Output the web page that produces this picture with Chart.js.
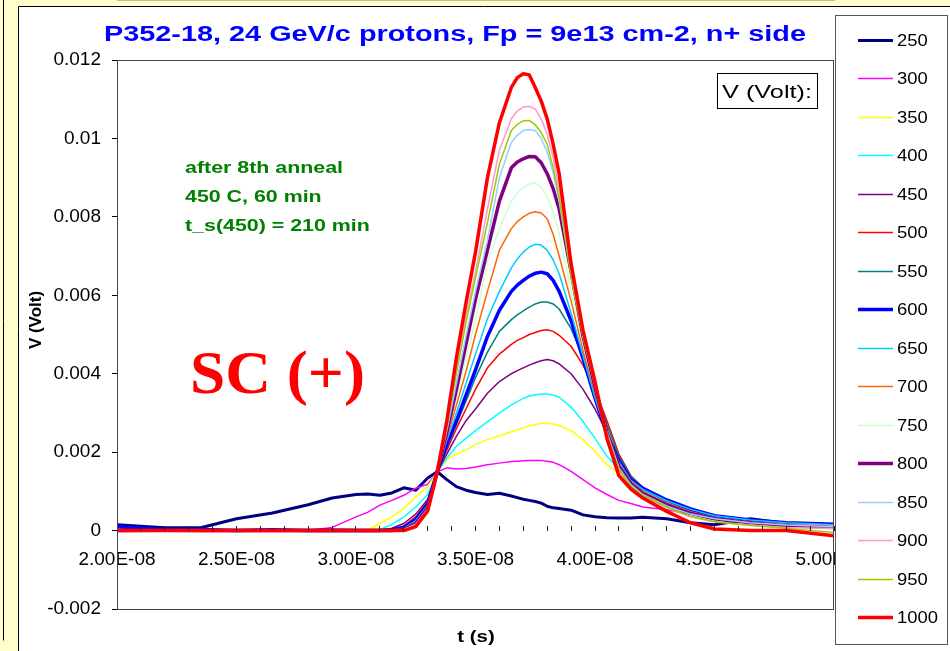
<!DOCTYPE html>
<html>
<head>
<meta charset="utf-8">
<title>P352-18 pulses</title>
<script src="https://cdn.jsdelivr.net/npm/chart.js@4.4.0/dist/chart.umd.min.js"></script>
<style>
  html, body { margin: 0; padding: 0; background: #ffffcc; }
  #wrap { width: 950px; height: 651px; }
</style>
</head>
<body>
<div id="wrap"><canvas id="pulseChart" width="950" height="651"></canvas></div>
<script>
// time samples (ns), shared by all curves
const timeNs = [20, 22, 23.5, 25, 26.5, 28, 29, 30, 30.5, 31, 31.5, 32, 32.5, 33, 33.4, 33.8, 34.2, 34.6, 35, 35.5,
  36, 36.5, 36.75, 37, 37.25, 37.5, 37.75, 38, 38.25, 38.5, 39, 39.5, 40, 40.5, 41, 41.5, 42, 43, 44, 45, 46.5, 48, 50];

// signal (mV) for each bias voltage
const v250 = [0.15, 0.07, 0.07, 0.30, 0.45, 0.66, 0.83, 0.92, 0.93, 0.90, 0.96, 1.09, 1.03, 1.34, 1.50, 1.30, 1.12, 1.03, 0.97, 0.92,
  0.95, 0.88, 0.84, 0.80, 0.77, 0.74, 0.70, 0.62, 0.58, 0.56, 0.52, 0.40, 0.35, 0.33, 0.32, 0.32, 0.34, 0.30, 0.20, 0.15, 0.30, 0.18, 0.11];
const v300 = [0.02, 0.00, 0.00, 0.01, 0.00, 0.00, 0.08, 0.35, 0.47, 0.65, 0.77, 0.90, 1.08, 1.18, 1.50, 1.60, 1.57, 1.58, 1.62, 1.68,
  1.72, 1.76, 1.77, 1.78, 1.79, 1.79, 1.79, 1.77, 1.74, 1.68, 1.51, 1.30, 1.09, 0.92, 0.77, 0.69, 0.60, 0.53, 0.42, 0.33, 0.22, 0.15, 0.10];
const v350 = [0.00, 0.01, 0.00, 0.00, 0.01, 0.00, 0.00, 0.00, 0.01, 0.18, 0.35, 0.56, 0.86, 1.12, 1.50, 1.80, 1.95, 2.05, 2.20, 2.32,
  2.42, 2.52, 2.57, 2.62, 2.67, 2.70, 2.73, 2.73, 2.72, 2.68, 2.55, 2.32, 2.02, 1.68, 1.43, 1.20, 1.00, 0.72, 0.50, 0.35, 0.25, 0.18, 0.12];
const v400 = [0.01, 0.00, 0.01, 0.00, 0.00, 0.01, 0.00, 0.00, 0.00, 0.03, 0.15, 0.35, 0.60, 0.92, 1.50, 1.85, 2.15, 2.35, 2.55, 2.77,
  3.00, 3.20, 3.29, 3.37, 3.43, 3.46, 3.48, 3.48, 3.46, 3.40, 3.15, 2.78, 2.35, 1.90, 1.55, 1.28, 1.05, 0.75, 0.52, 0.37, 0.26, 0.18, 0.14];
const v450 = [0.00, 0.01, 0.00, 0.00, 0.01, 0.00, 0.00, 0.00, 0.00, 0.00, 0.06, 0.18, 0.42, 0.80, 1.50, 1.95, 2.40, 2.80, 3.10, 3.50,
  3.80, 4.00, 4.08, 4.15, 4.22, 4.28, 4.33, 4.36, 4.33, 4.25, 4.00, 3.60, 3.10, 2.50, 1.85, 1.35, 1.08, 0.75, 0.52, 0.37, 0.26, 0.18, 0.13];
const v500 = [0.02, 0.00, 0.01, 0.00, 0.00, 0.01, 0.00, 0.00, 0.00, 0.00, 0.03, 0.12, 0.35, 0.75, 1.50, 2.05, 2.60, 3.10, 3.60, 4.15,
  4.50, 4.75, 4.85, 4.92, 5.00, 5.05, 5.10, 5.12, 5.08, 4.98, 4.70, 4.22, 3.60, 2.80, 1.95, 1.40, 1.10, 0.76, 0.53, 0.37, 0.25, 0.18, 0.13];
const v550 = [0.00, 0.01, 0.00, 0.01, 0.00, 0.00, 0.01, 0.00, 0.00, 0.00, 0.02, 0.10, 0.30, 0.70, 1.50, 2.15, 2.70, 3.30, 3.90, 4.55,
  5.08, 5.38, 5.50, 5.60, 5.70, 5.78, 5.83, 5.83, 5.78, 5.65, 5.15, 4.42, 3.60, 2.70, 1.90, 1.38, 1.10, 0.78, 0.55, 0.38, 0.26, 0.20, 0.15];
const v600 = [0.10, 0.02, 0.03, 0.00, 0.02, 0.00, 0.01, 0.00, 0.00, 0.00, 0.02, 0.08, 0.28, 0.68, 1.50, 2.20, 2.80, 3.45, 4.10, 4.95,
  5.62, 6.10, 6.26, 6.38, 6.49, 6.56, 6.59, 6.55, 6.38, 6.10, 5.35, 4.38, 3.38, 2.45, 1.78, 1.30, 1.08, 0.78, 0.55, 0.38, 0.27, 0.20, 0.16];
const v650 = [0.00, 0.01, 0.00, 0.00, 0.00, 0.01, 0.00, 0.00, 0.00, 0.00, 0.01, 0.06, 0.25, 0.65, 1.50, 2.30, 3.00, 3.75, 4.50, 5.40,
  6.10, 6.70, 6.93, 7.10, 7.23, 7.30, 7.28, 7.15, 6.90, 6.55, 5.55, 4.45, 3.40, 2.45, 1.75, 1.28, 1.05, 0.76, 0.54, 0.38, 0.27, 0.20, 0.15];
const v700 = [0.00, 0.00, 0.01, 0.00, 0.01, 0.00, 0.00, 0.00, 0.00, 0.00, 0.01, 0.05, 0.22, 0.62, 1.50, 2.35, 3.20, 4.05, 5.00, 6.10,
  7.15, 7.70, 7.88, 8.00, 8.09, 8.13, 8.10, 7.95, 7.55, 7.00, 5.85, 4.60, 3.50, 2.50, 1.72, 1.25, 1.00, 0.70, 0.48, 0.33, 0.22, 0.16, 0.12];
const v750 = [0.00, 0.00, 0.00, 0.01, 0.00, 0.00, 0.00, 0.01, 0.00, 0.00, 0.00, 0.04, 0.20, 0.60, 1.50, 2.40, 3.40, 4.40, 5.40, 6.85,
  7.70, 8.40, 8.60, 8.75, 8.84, 8.87, 8.75, 8.50, 8.12, 7.60, 6.10, 4.75, 3.55, 2.50, 1.70, 1.22, 0.97, 0.68, 0.46, 0.32, 0.22, 0.15, 0.12];
const v800 = [0.00, 0.01, 0.00, 0.00, 0.00, 0.00, 0.01, 0.00, 0.00, 0.00, 0.00, 0.03, 0.18, 0.58, 1.50, 2.50, 3.60, 4.75, 5.90, 7.15,
  8.40, 9.25, 9.40, 9.48, 9.54, 9.53, 9.38, 9.10, 8.72, 8.20, 6.60, 4.95, 3.65, 2.50, 1.65, 1.20, 0.95, 0.66, 0.44, 0.30, 0.20, 0.12, 0.08];
const v850 = [0.01, 0.00, 0.00, 0.00, 0.01, 0.00, 0.00, 0.00, 0.00, 0.00, 0.00, 0.03, 0.16, 0.56, 1.50, 2.55, 3.75, 4.95, 6.10, 7.40,
  9.00, 9.90, 10.08, 10.20, 10.23, 10.20, 10.00, 9.65, 9.12, 8.40, 6.50, 4.95, 3.70, 2.50, 1.60, 1.17, 0.92, 0.63, 0.42, 0.30, 0.20, 0.14, 0.10];
const v900 = [0.00, 0.00, 0.00, 0.00, 0.00, 0.01, 0.00, 0.00, 0.00, 0.00, 0.00, 0.02, 0.14, 0.54, 1.50, 2.70, 4.15, 5.45, 6.60, 8.20,
  9.70, 10.50, 10.70, 10.80, 10.82, 10.75, 10.50, 10.10, 9.50, 8.70, 6.60, 5.00, 3.72, 2.45, 1.55, 1.12, 0.88, 0.58, 0.35, 0.22, 0.14, 0.08, 0.05];
const v950 = [0.00, 0.00, 0.00, 0.00, 0.00, 0.00, 0.00, 0.00, 0.00, 0.00, 0.00, 0.02, 0.12, 0.52, 1.50, 2.65, 4.00, 5.30, 6.45, 7.85,
  9.35, 10.20, 10.36, 10.45, 10.46, 10.35, 10.15, 9.85, 9.25, 8.50, 6.50, 4.95, 3.72, 2.45, 1.55, 1.13, 0.90, 0.60, 0.36, 0.23, 0.13, 0.06, -0.05];
const v1000 = [0.00, 0.00, 0.00, 0.00, 0.00, 0.00, 0.00, 0.00, 0.00, 0.00, 0.00, 0.00, 0.10, 0.50, 1.50, 2.80, 4.40, 5.80, 7.10, 9.00,
  10.40, 11.30, 11.55, 11.65, 11.62, 11.30, 10.95, 10.50, 9.85, 9.10, 6.80, 5.10, 3.80, 2.35, 1.40, 1.06, 0.83, 0.49, 0.20, 0.04, 0.00, 0.00, -0.13];

const voltLabels = ["250", "300", "350", "400", "450", "500", "550", "600", "650", "700", "750", "800", "850", "900", "950", "1000"];
const seriesMv = [v250, v300, v350, v400, v450, v500, v550, v600, v650, v700, v750, v800, v850, v900, v950, v1000];
const lineColors = ["#000080", "#ff00ff", "#ffff00", "#00ffff", "#800080", "#ff0000", "#008080", "#0000ff",
  "#00ccff", "#ff6600", "#ccffcc", "#800080", "#99ccff", "#ff99cc", "#99cc00", "#ff0000"];
const lineWidths = [3, 1.5, 1.5, 1.5, 1.5, 1.5, 1.5, 3.5, 1.5, 1.5, 1.5, 3.5, 1.5, 1.5, 1.5, 3.5];

const yTicks = { min: -0.002, max: 0.012, step: 0.002 };
const xTicks = { min: 2e-8, max: 5e-8, step: 1e-9 };

const FONT = '"Liberation Sans", Arial, sans-serif';

// draw text squeezed/stretched horizontally
function drawText(ctx, text, x, y, sx, align) {
  ctx.save();
  ctx.translate(x, y);
  ctx.scale(sx, 1);
  ctx.textAlign = align || "left";
  ctx.fillText(text, 0, 0);
  ctx.restore();
}

function fitScale(ctx, text, width) {
  return width / ctx.measureText(text).width;
}

function sciLabel(value) {
  const parts = value.toExponential(2).split("e");
  const exp = parseInt(parts[1], 10);
  return parts[0] + "E" + (exp < 0 ? "-" : "+") + String(Math.abs(exp)).padStart(2, "0");
}

const decorations = {
  id: "decorations",
  beforeDraw(chart) {
    const ctx = chart.ctx;
    ctx.save();
    ctx.fillStyle = "#ffffcc";
    ctx.fillRect(0, 0, chart.width, chart.height);
    ctx.fillStyle = "#ffffff";
    ctx.fillRect(18, 6, chart.width - 18, chart.height - 6);
    ctx.strokeStyle = "#000";
    ctx.lineWidth = 1;
    ctx.beginPath();
    ctx.moveTo(18.5, chart.height);
    ctx.lineTo(18.5, 6.5);
    ctx.lineTo(chart.width, 6.5);
    ctx.moveTo(3.5, 0);
    ctx.lineTo(3.5, 640.5);
    ctx.stroke();
    ctx.restore();
  },
  afterDraw(chart) {
    const ctx = chart.ctx;
    const area = chart.chartArea;
    ctx.save();

    // plot frame
    ctx.strokeStyle = "#444";
    ctx.lineWidth = 1;
    ctx.strokeRect(Math.round(area.left) + 0.5, Math.round(area.top) + 0.5,
      Math.round(area.right - area.left) - 1, Math.round(area.bottom - area.top));

    // title
    ctx.fillStyle = "#0000ff";
    ctx.font = "bold 22px " + FONT;
    const title = "P352-18, 24 GeV/c protons, Fp = 9e13 cm-2, n+ side";
    drawText(ctx, title, 455, 41, fitScale(ctx, title, 702), "center");

    // axis titles
    ctx.fillStyle = "#000";
    ctx.font = "bold 17px " + FONT;
    drawText(ctx, "t (s)", 476, 642, 1.2, "center");
    ctx.save();
    ctx.translate(41, 320);
    ctx.rotate(-Math.PI / 2);
    ctx.textAlign = "center";
    ctx.fillText("V (Volt)", 0, 0);
    ctx.restore();

    // annealing note
    ctx.fillStyle = "#008000";
    ctx.font = "bold 17px " + FONT;
    const noteScale = fitScale(ctx, "after 8th anneal", 158);
    drawText(ctx, "after 8th anneal", 185, 173, noteScale);
    drawText(ctx, "450 C, 60 min", 185, 202, noteScale);
    drawText(ctx, "t_s(450) = 210 min", 185, 231, noteScale);

    // SC (+)
    ctx.fillStyle = "#ff0000";
    ctx.font = 'bold 62px "Liberation Serif", "Times New Roman", serif';
    drawText(ctx, "SC (+)", 190, 393, fitScale(ctx, "SC (+)", 175));

    // V (Volt): label box
    ctx.fillStyle = "#fff";
    ctx.fillRect(717, 73, 100, 35);
    ctx.strokeStyle = "#000";
    ctx.strokeRect(717.5, 73.5, 100, 35);
    ctx.fillStyle = "#000";
    ctx.font = "19px " + FONT;
    drawText(ctx, "V (Volt):", 722, 98, fitScale(ctx, "V (Volt):", 90));

    // legend
    ctx.fillStyle = "#fff";
    ctx.fillRect(835, 15, 113, 630);
    ctx.strokeStyle = "#555";
    ctx.strokeRect(835.5, 15.5, 112, 629);
    ctx.font = "16px " + FONT;
    ctx.textBaseline = "middle";
    chart.data.datasets.forEach((ds, i) => {
      const y = Math.round(40 + i * 38.47) + 0.5;
      ctx.strokeStyle = ds.borderColor;
      ctx.lineWidth = ds.borderWidth;
      ctx.beginPath();
      ctx.moveTo(858, y);
      ctx.lineTo(893, y);
      ctx.stroke();
      ctx.fillStyle = "#000";
      drawText(ctx, ds.label, 897, y + 1, 1.15);
    });
    ctx.restore();
  }
};

const datasets = seriesMv.map((vals, i) => ({
  label: voltLabels[i],
  data: vals.map((v, k) => ({ x: timeNs[k] * 1e-9, y: v / 1000 })),
  borderColor: lineColors[i],
  backgroundColor: lineColors[i],
  borderWidth: lineWidths[i],
  pointRadius: 0,
  tension: 0,
  fill: false,
  borderJoinStyle: "round",
  order: seriesMv.length - i
}));

new Chart(document.getElementById("pulseChart"), {
  type: "line",
  data: { datasets: datasets },
  options: {
    responsive: false,
    animation: false,
    devicePixelRatio: 1,
    events: [],
    layout: { padding: { left: 0, top: 60, right: 116, bottom: 42 } },
    plugins: { legend: { display: false }, tooltip: { enabled: false } },
    scales: {
      x: {
        type: "linear",
        position: { y: 0 },
        min: xTicks.min,
        max: xTicks.max,
        border: { color: "#808080", width: 1 },
        // tick marks sit on top of the curves, pointing up into the plot
        grid: { drawOnChartArea: false, tickLength: -5, color: "#222", z: 1 },
        ticks: {
          stepSize: xTicks.step,
          autoSkip: false,
          maxRotation: 0,
          minRotation: 0,
          padding: 23,
          color: "#000",
          font: { family: FONT, size: 19 },
          callback: (value, index) => (index % 5 === 0 ? sciLabel(value) : "")
        },
        afterFit: (scale) => { scale.paddingLeft = 0; scale.paddingRight = 0; }
      },
      y: {
        type: "linear",
        min: yTicks.min,
        max: yTicks.max,
        border: { color: "#000", width: 1 },
        grid: { drawOnChartArea: false, tickLength: 5, color: "#000" },
        ticks: {
          stepSize: yTicks.step,
          padding: 11,
          color: "#000",
          font: { family: FONT, size: 19 },
          callback: (value) => String(Number(value.toFixed(3)))
        },
        afterFit: (scale) => { scale.width = 117; scale.paddingTop = 0; scale.paddingBottom = 0; }
      }
    }
  },
  plugins: [decorations]
});
</script>
</body>
</html>
